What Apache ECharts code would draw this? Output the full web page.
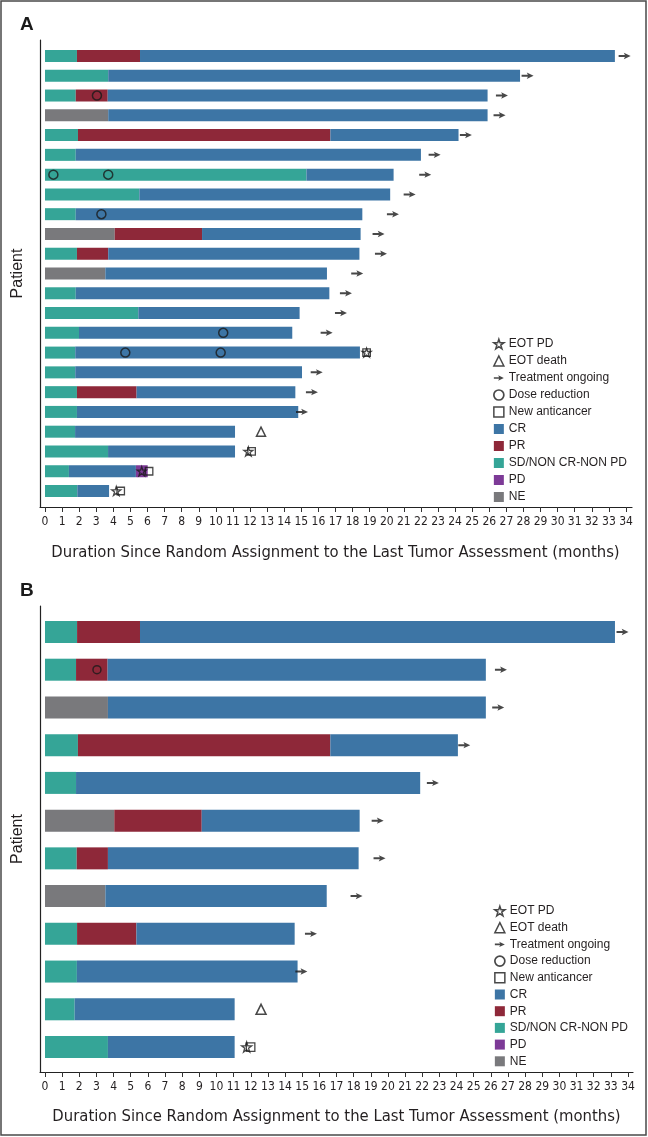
<!DOCTYPE html>
<html><head><meta charset="utf-8">
<script src="https://cdn.jsdelivr.net/npm/echarts@6/dist/echarts.min.js"></script>
<style>html,body{margin:0;padding:0;background:#fff}#c{width:648px;height:1137px}</style>
</head><body><div id="c"></div>
<script>
// ---------- Panel A data (rows top -> bottom) ----------
const patientsA = ['1','2','3','4','5','6','7','8','9','10','11','12','13','14','15','16','17','18','19','20','21','22','23'];
const firstTypeA = ['SD','SD','SD','NE','SD','SD','SD','SD','SD','NE','SD','NE','SD','SD','SD','SD','SD','SD','SD','SD','SD','SD','SD'];
const firstEndA = [1.87,3.7,1.8,3.7,1.93,1.8,15.3,5.52,1.8,4.08,1.87,3.53,1.8,5.46,1.99,1.77,1.77,1.87,1.87,1.76,3.69,1.4,1.89];
const prEndA = [5.56,null,3.67,null,16.7,null,null,null,null,9.19,3.7,null,null,null,null,null,null,5.36,null,null,null,null,null];
const crEndA = [33.35,27.8,25.9,25.9,24.2,22.0,20.4,20.2,18.57,18.47,18.4,16.5,16.64,14.9,14.47,18.43,15.04,14.65,14.82,11.12,11.12,5.32,3.75];
const pdEndA = [null,null,null,null,null,null,null,null,null,null,null,null,null,null,null,null,null,null,null,null,null,6.01,null];
const ongoingA = [[33.92,'1'],[28.24,'2'],[26.74,'3'],[26.6,'4'],[24.63,'5'],[22.8,'6'],[22.25,'7'],[21.34,'8'],[20.36,'9'],[19.52,'10'],[19.66,'11'],[18.27,'12'],[17.61,'13'],[17.32,'14'],[16.48,'15'],[15.9,'17'],[15.62,'18'],[15.04,'19']];
const doseA = [[3.04,'3'],[0.49,'7'],[3.7,'7'],[3.3,'9'],[10.43,'15'],[4.7,'16'],[10.28,'16']];
const deathA = [[12.64,'20']];
const eotPdA = [[18.82,'16'],[11.9,'21'],[5.66,'22'],[4.17,'23']];
const newAntiA = [[18.82,'16'],[12.09,'21'],[6.09,'22'],[4.43,'23']];

// ---------- Panel B data ----------
const patientsB = ['1','2','3','4','5','6','7','8','9','10','11','12'];
const firstTypeB = ['SD','SD','NE','SD','SD','NE','SD','NE','SD','SD','SD','SD'];
const firstEndB = [1.87,1.81,3.67,1.92,1.81,4.04,1.85,3.52,1.87,1.86,1.73,3.67];
const prEndB = [5.54,3.65,null,16.64,null,9.14,3.67,null,5.33,null,null,null];
const crEndB = [33.24,25.71,25.71,24.08,21.88,18.35,18.29,16.43,14.56,14.73,11.06,11.06];
const pdEndB = [null,null,null,null,null,null,null,null,null,null,null,null];
const ongoingB = [[33.68,'1'],[26.59,'2'],[26.43,'3'],[24.45,'4'],[22.62,'5'],[19.4,'6'],[19.51,'7'],[18.17,'8'],[15.51,'9'],[14.95,'10']];
const doseB = [[3.03,'2']];
const deathB = [[12.6,'11']];
const eotPdB = [[11.76,'12']];
const newAntiB = [[11.99,'12']];

const axisTitle = 'Duration Since Random Assignment to the Last Tumor Assessment (months)';
const legendOrder = ['EOT PD','EOT death','Treatment ongoing','Dose reduction','New anticancer','CR','PR','SD/NON CR-NON PD','PD','NE'];

const COLORS = {CR:'#3d75a5', PR:'#8e2839', SD:'#35a597', PD:'#7d3a97', NE:'#79797c'};
const STATUS_NAME = {SD:'SD/NON CR-NON PD', NE:'NE', PR:'PR', CR:'CR', PD:'PD'};
const NARROW = "'Liberation Sans Narrow','DejaVu Sans Condensed','Roboto Condensed',sans-serif";
const SANS = "'Liberation Sans',Arial,sans-serif";
const TXT = '#231f20';
const INK = '#1a1a1a';

const STAR = 'path://M50,2 L61,36 L97,36 L68,57 L79,92 L50,71 L21,92 L32,57 L3,36 L39,36 Z';
const ARROW = 'path://M0,0 M12,12 M0,5 L6.3,5 L5.2,2.8 L12,6 L5.2,9.2 L6.3,7 L0,7 Z';

function segments(type, firstEnd, prEnd, crEnd, pdEnd) {
  const SD = [], NE = [], PR = [], CR = [], PD = [];
  for (let i = 0; i < crEnd.length; i++) {
    SD.push(type[i] === 'SD' ? firstEnd[i] : '-');
    NE.push(type[i] === 'NE' ? firstEnd[i] : '-');
    PR.push(prEnd[i] != null ? +(prEnd[i] - firstEnd[i]).toFixed(3) : '-');
    const crStart = prEnd[i] != null ? prEnd[i] : firstEnd[i];
    CR.push(+(crEnd[i] - crStart).toFixed(3));
    PD.push(pdEnd[i] != null ? +(pdEnd[i] - crEnd[i]).toFixed(3) : '-');
  }
  return {SD, NE, PR, CR, PD};
}

const option = {animation:false, backgroundColor:'#fff', grid:[], xAxis:[], yAxis:[], series:[], legend:[], graphic:[]};
const hollow = {color:'rgba(0,0,0,0)', borderColor:INK, borderWidth:1.3};

function legendItems() {
  return legendOrder.map(n => {
    if (['CR','PR','SD/NON CR-NON PD','PD','NE'].includes(n)) return {name:n, icon:'rect'};
    if (n === 'Treatment ongoing') return {name:n, itemStyle:{color:INK, borderWidth:0}};
    if (n === 'Dose reduction') return {name:n, itemStyle:{color:'rgba(0,0,0,0)', borderColor:INK, borderWidth:1.7}};
    return {name:n, itemStyle:{color:'rgba(0,0,0,0)', borderColor:INK, borderWidth:1.5}};
  });
}

function addPanel(cfg) {
  const g0 = option.grid.length;
  option.grid.push(cfg.lines, cfg.ticks, cfg.bars);
  const x0 = option.xAxis.length, y0 = option.yAxis.length;
  const axLine = {show:true, onZero:false, lineStyle:{color:'#222', width:1.2}};
  // frame lines
  option.xAxis.push({gridIndex:g0, type:'value', min:0, max:1, axisLine:axLine, axisTick:{show:false}, axisLabel:{show:false}, splitLine:{show:false}});
  option.yAxis.push({gridIndex:g0, type:'value', min:0, max:1, axisLine:axLine, axisTick:{show:false}, axisLabel:{show:false}, splitLine:{show:false},
    name:'Patient', nameLocation:'middle', nameGap:14, nameTextStyle:{fontSize:16, color:TXT, fontFamily:SANS}});
  // ticks + labels
  option.xAxis.push({gridIndex:g0+1, type:'value', min:0, max:34, interval:1,
    axisLine:{show:false, onZero:false}, axisTick:{show:true, length:5, lineStyle:{color:'#333', width:1}},
    axisLabel:{margin:9, fontSize:12, color:TXT, fontFamily:NARROW}, splitLine:{show:false},
    name:axisTitle, nameLocation:'middle', nameGap:cfg.nameGap, nameTextStyle:{fontSize:16.5, color:TXT, fontFamily:NARROW}});
  option.yAxis.push({gridIndex:g0+1, type:'value', show:false});
  // bars
  option.xAxis.push({gridIndex:g0+2, type:'value', min:0, max:34, show:false});
  option.yAxis.push({gridIndex:g0+2, type:'category', data:cfg.patients, inverse:true, show:false});
  const xi = x0 + 2, yi = y0 + 2;
  const seg = segments(cfg.type, cfg.firstEnd, cfg.prEnd, cfg.crEnd, cfg.pdEnd);
  ['SD','NE','PR','CR','PD'].forEach(k => {
    option.series.push({type:'bar', name:STATUS_NAME[k], xAxisIndex:xi, yAxisIndex:yi, stack:'s'+g0,
      barWidth:cfg.barWidth, data:seg[k], itemStyle:{color:COLORS[k]}, z:2});
  });
  option.series.push(
    {type:'scatter', name:'Treatment ongoing', xAxisIndex:xi, yAxisIndex:yi, data:cfg.ongoing, symbol:ARROW, symbolSize:cfg.arrowSize, itemStyle:{color:INK}, z:5},
    {type:'scatter', name:'Dose reduction', xAxisIndex:xi, yAxisIndex:yi, data:cfg.dose, symbol:'circle', symbolSize:cfg.circleSize, itemStyle:Object.assign({}, hollow, {borderWidth:1.5}), z:5},
    {type:'scatter', name:'EOT death', xAxisIndex:xi, yAxisIndex:yi, data:cfg.death, symbol:'triangle', symbolSize:cfg.markSize, itemStyle:Object.assign({}, hollow, {borderWidth:1.5}), z:5},
    {type:'scatter', name:'New anticancer', xAxisIndex:xi, yAxisIndex:yi, data:cfg.newAnti, symbol:'rect', symbolSize:cfg.markSize-1.5, itemStyle:hollow, z:5},
    {type:'scatter', name:'EOT PD', xAxisIndex:xi, yAxisIndex:yi, data:cfg.eotPd, symbol:STAR, symbolSize:cfg.markSize, itemStyle:hollow, z:6}
  );
  option.legend.push({orient:'vertical', left:cfg.legendLeft, top:cfg.legendTop, padding:0, itemWidth:10, itemHeight:10, itemGap:cfg.legendGap,
    selectedMode:false, data:legendItems(),
    textStyle:{fontSize:12, color:TXT, fontFamily:SANS}});
}

addPanel({
  lines:{left:40, right:16, top:40, bottom:630},
  ticks:{left:45, right:22, top:40, bottom:630},
  bars:{left:45, right:22, top:46.1, bottom:636.1},
  nameGap:37, patients:patientsA, type:firstTypeA, firstEnd:firstEndA, prEnd:prEndA, crEnd:crEndA, pdEnd:pdEndA,
  ongoing:ongoingA, dose:doseA, death:deathA, eotPd:eotPdA, newAnti:newAntiA,
  barWidth:12, arrowSize:12, circleSize:9, markSize:9, legendLeft:493, legendTop:338, legendGap:5
});
addPanel({
  lines:{left:40, right:15, top:606, bottom:65},
  ticks:{left:45, right:20, top:606, bottom:65},
  bars:{left:45, right:20, top:613.1, bottom:71.1},
  nameGap:36, patients:patientsB, type:firstTypeB, firstEnd:firstEndB, prEnd:prEndB, crEnd:crEndB, pdEnd:pdEndB,
  ongoing:ongoingB, dose:doseB, death:deathB, eotPd:eotPdB, newAnti:newAntiB,
  barWidth:22, arrowSize:12, circleSize:8, markSize:10, legendLeft:494, legendTop:905, legendGap:4.7
});

option.graphic = [
  {type:'rect', shape:{x:1, y:1, width:645, height:1134}, style:{fill:'none', stroke:'#4a4a4a', lineWidth:1.5}, silent:true, z:100},
  {type:'text', left:20, top:15, style:{text:'A', font:'bold 19px Liberation Sans, Arial, sans-serif', fill:INK}},
  {type:'text', left:20, top:581, style:{text:'B', font:'bold 19px Liberation Sans, Arial, sans-serif', fill:INK}}
];

const chart = echarts.init(document.getElementById('c'), null, {renderer:'canvas'});
chart.setOption(option);
</script></body></html>
